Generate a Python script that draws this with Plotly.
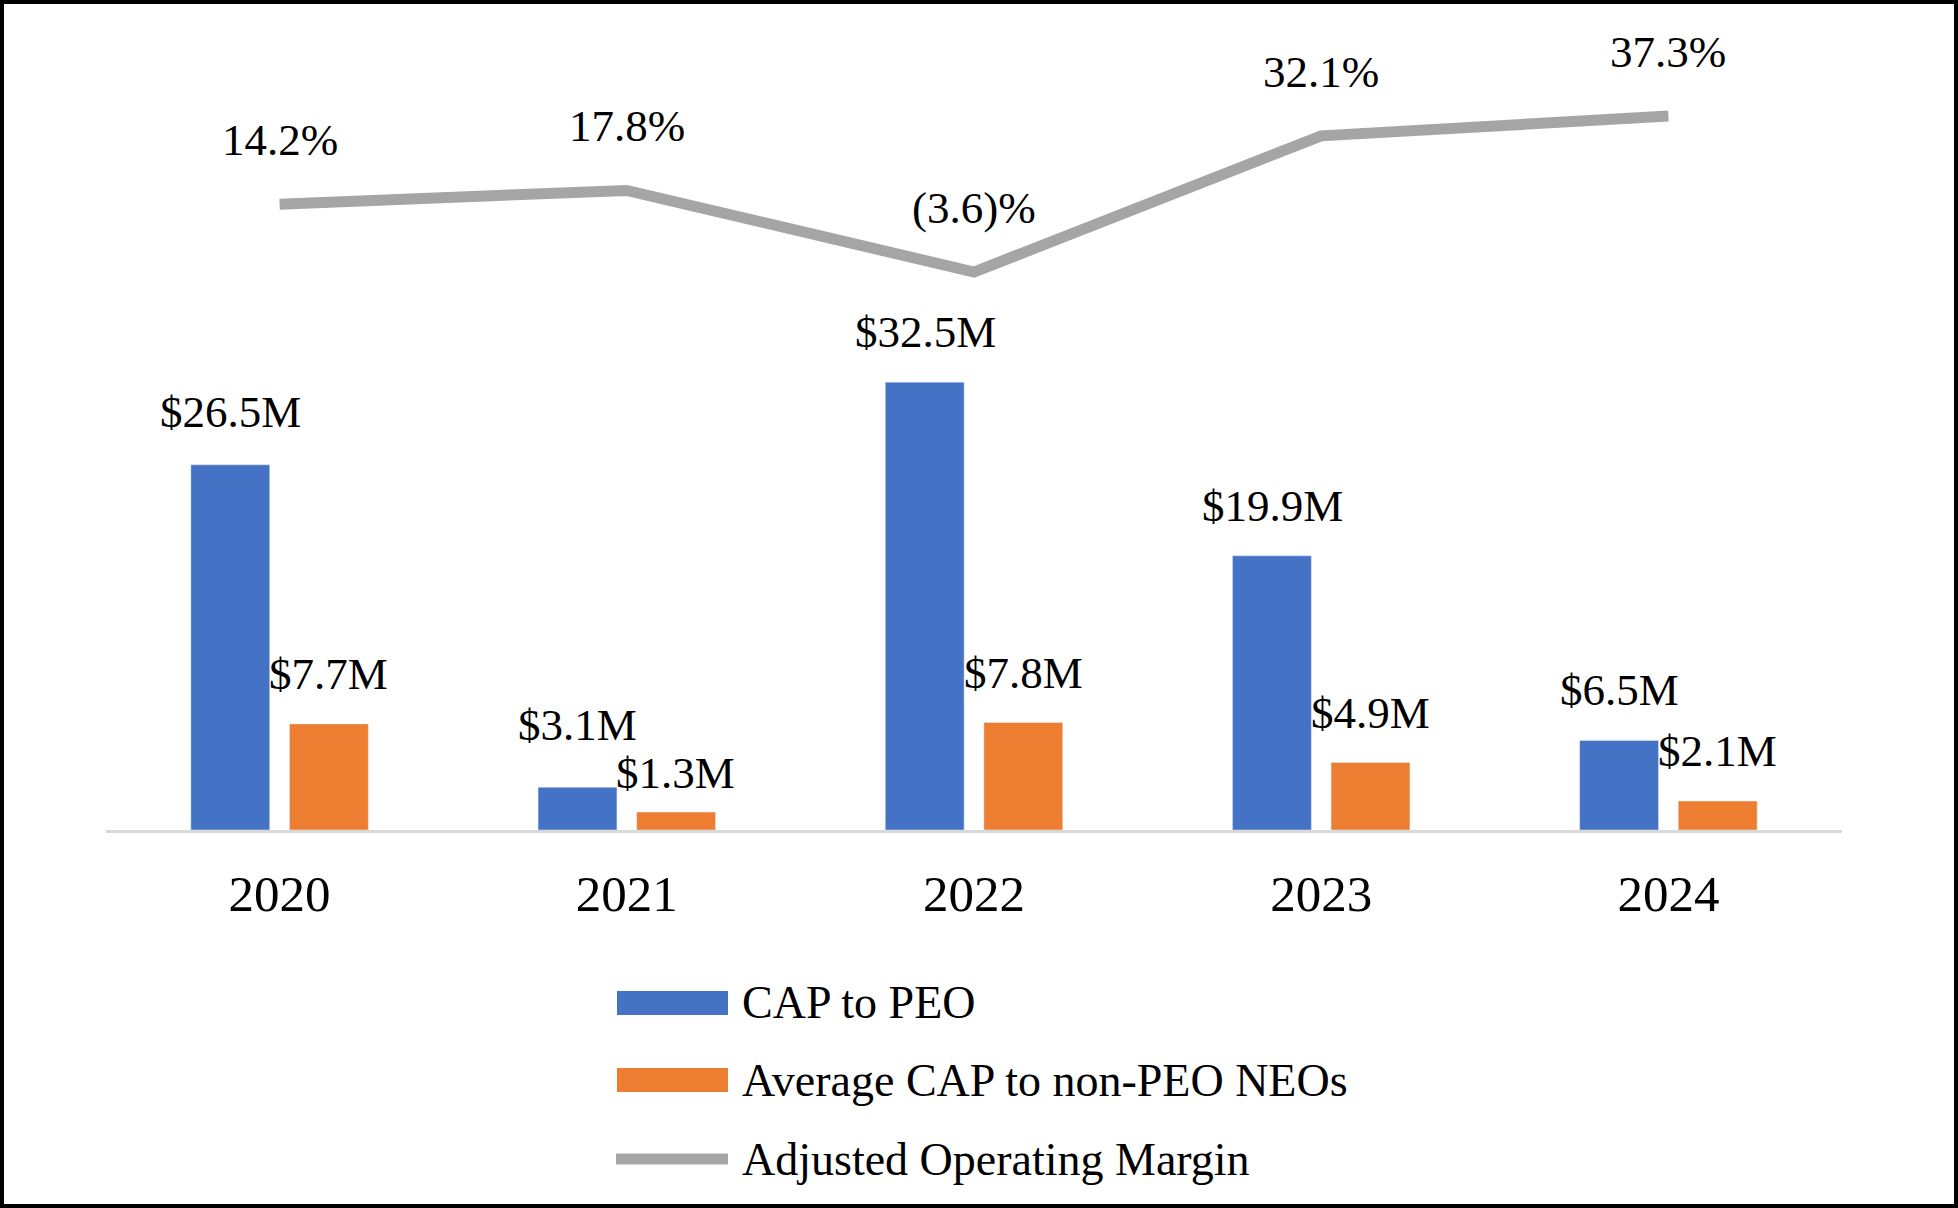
import plotly.graph_objects as go

# ---- data ----
years = ["2020", "2021", "2022", "2023", "2024"]
cap_peo = [26.5, 3.1, 32.5, 19.9, 6.5]
cap_neo = [7.7, 1.3, 7.8, 4.9, 2.1]
op_margin = [14.2, 17.8, -3.6, 32.1, 37.3]
series_names = ["CAP to PEO", "Average CAP to non-PEO NEOs", "Adjusted Operating Margin"]

# ---- styles ----
BLUE = "#4472c4"
ORANGE = "#ed7d31"
GRAY = "#a5a5a5"
FONT = "Liberation Serif, Times New Roman, serif"

W, H = 1958, 1208
L, R, T, B = 106, 116, 20, 378
PW, PH = W - L - R, H - T - B

# label vertical offsets in px (hand-placed labels in the original)
peo_lift = [53, 62, 50, 50, 50]
neo_lift = [50, 39, 50, 49, 50]


def px(x):
    return (x - L) / PW


def py(y):
    return (H - B - y) / PH


def money(v):
    return f"${v:.1f}M"


def pct(v):
    return f"({abs(v):.1f})%" if v < 0 else f"{v:.1f}%"


fig = go.Figure()
fig.add_trace(go.Bar(x=years, y=cap_peo, name=series_names[0], marker_color=BLUE,
                     showlegend=False))
fig.add_trace(go.Bar(x=years, y=cap_neo, name=series_names[1], marker_color=ORANGE,
                     showlegend=False))
fig.add_trace(go.Scatter(x=years, y=op_margin, name=series_names[2], yaxis="y2",
                         mode="lines", line=dict(color=GRAY, width=11),
                         showlegend=False))

ann = []
lab_font = dict(family=FONT, size=45, color="black")
for i, yr in enumerate(years):
    ann.append(dict(x=i, y=cap_peo[i], xref="x", yref="y", text=money(cap_peo[i]),
                    showarrow=False, xshift=-49, yshift=peo_lift[i], yanchor="middle",
                    font=lab_font))
    ann.append(dict(x=i, y=cap_neo[i], xref="x", yref="y", text=money(cap_neo[i]),
                    showarrow=False, xshift=49, yshift=neo_lift[i], yanchor="middle",
                    font=lab_font))
    ann.append(dict(x=i, y=op_margin[i], xref="x", yref="y2", text=pct(op_margin[i]),
                    showarrow=False, yshift=64, yanchor="middle",
                    font=lab_font))

# ---- manual legend ----
rows = [1003, 1080, 1159]
shapes = [
    dict(type="rect", xref="paper", yref="paper", x0=px(2), x1=px(W - 2), y0=py(H - 2), y1=py(2),
         line=dict(color="black", width=4), fillcolor="rgba(0,0,0,0)"),
    dict(type="rect", xref="paper", yref="paper", x0=px(617), x1=px(728),
         y0=py(rows[0] + 12), y1=py(rows[0] - 12), line=dict(width=0), fillcolor=BLUE),
    dict(type="rect", xref="paper", yref="paper", x0=px(617), x1=px(728),
         y0=py(rows[1] + 12), y1=py(rows[1] - 12), line=dict(width=0), fillcolor=ORANGE),
    dict(type="line", xref="paper", yref="paper", x0=px(616), x1=px(728),
         y0=py(rows[2]), y1=py(rows[2]), line=dict(color=GRAY, width=11)),
]
for name, r in zip(series_names, rows):
    ann.append(dict(x=px(740), y=py(r), xref="paper", yref="paper", text=name,
                    showarrow=False, xanchor="left", yanchor="middle",
                    font=dict(family=FONT, size=46, color="black")))

fig.update_layout(
    width=W, height=H,
    margin=dict(l=L, r=R, t=T, b=B),
    paper_bgcolor="white", plot_bgcolor="white",
    barmode="group", bargap=0.432, bargroupgap=0.2,
    xaxis=dict(type="category", range=[-0.5, 4.5], showline=True, linecolor="#d9d9d9",
               linewidth=3, ticks="", showgrid=False, zeroline=False,
               tickfont=dict(family=FONT, size=51, color="black"),
               ticklabelstandoff=17),
    yaxis=dict(range=[0, PH / 13.78], visible=False, showgrid=False, zeroline=False),
    yaxis2=dict(range=[(258.3 - (H - B)) / 3.814, (258.3 - T) / 3.814], overlaying="y",
                visible=False, showgrid=False, zeroline=False),
    annotations=ann,
    shapes=shapes,
    font=dict(family=FONT),
)

fig.write_html("out.html", config={"displayModeBar": False},
               post_script="document.body.style.margin='0';document.body.style.padding='0';")
